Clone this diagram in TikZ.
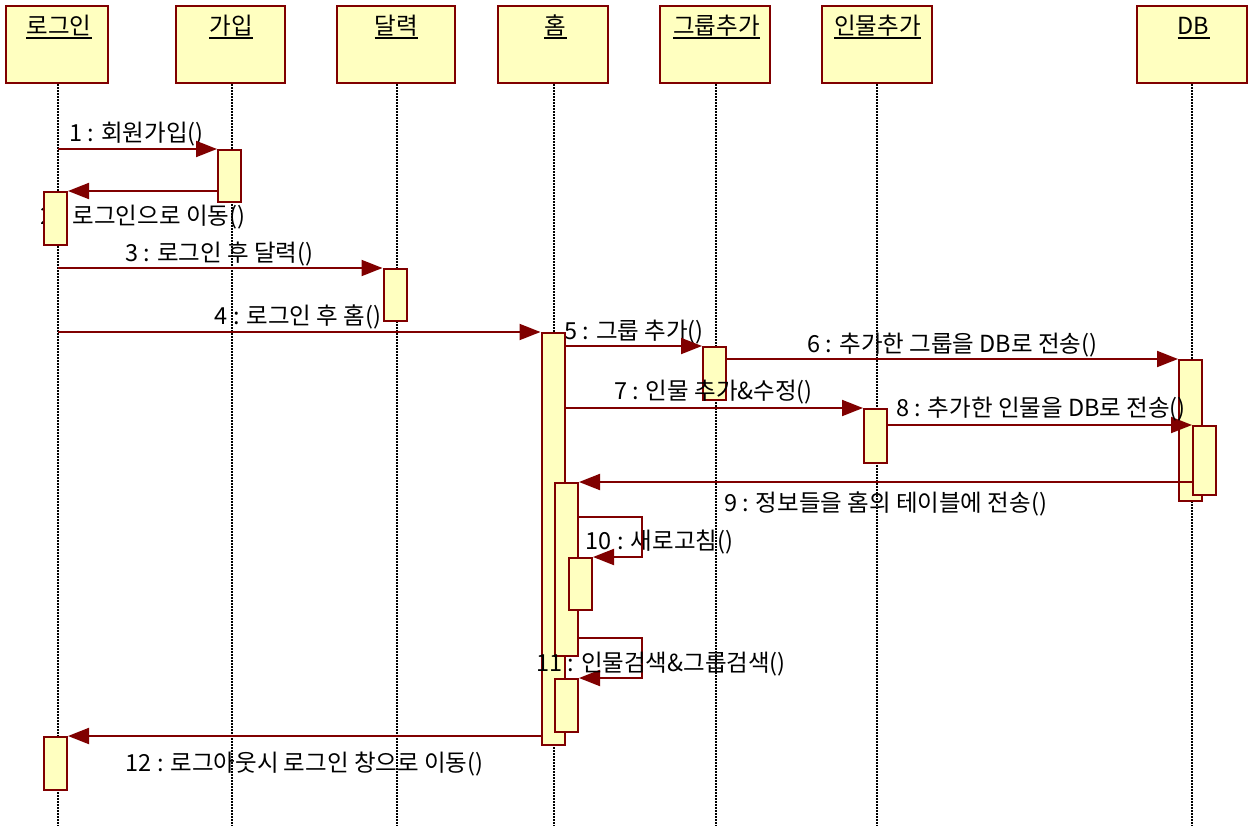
\documentclass[tikz,border=0pt]{standalone}
\usepackage{fontspec}
\setmainfont{Noto Sans CJK KR}
\usetikzlibrary{arrows.meta}
\definecolor{dred}{RGB}{128,0,0}
\definecolor{lyel}{RGB}{255,255,192}
\begin{document}
\begin{tikzpicture}[x=1pt,y=-1pt,
  hbox/.style={draw=dred, line width=2.4pt, fill=lyel, inner sep=0pt, minimum height=76.6pt},
  act/.style={draw=dred, line width=2pt, fill=lyel, inner sep=0pt, minimum width=23pt},
  msg/.style={draw=dred, line width=2pt, -{Triangle[length=21pt,width=16pt]}},
  lbl/.style={font=\fontsize{23.5}{28}\selectfont, inner sep=0pt, anchor=base},
  life/.style={line width=1.6pt, dash pattern=on 1.5pt off 1.5pt}]
\useasboundingbox (0,0) rectangle (1249,827);
% header boxes
\node[hbox, minimum width=101.6pt] (H1) at (57,44.5) {};
\node[hbox, minimum width=108.6pt] (H2) at (230.5,44.5) {};
\node[hbox, minimum width=117.6pt] (H3) at (396,44.5) {};
\node[hbox, minimum width=109.6pt] (H4) at (553,44.5) {};
\node[hbox, minimum width=109.6pt] (H5) at (715,44.5) {};
\node[hbox, minimum width=109.6pt] (H6) at (877,44.5) {};
\node[hbox, minimum width=109.6pt] (H7) at (1192,44.5) {};
% header titles
\node[lbl] (T1) at (59,34) {로그인};
\node[lbl] (T2) at (231,34) {가입};
\node[lbl] (T3) at (396.5,34) {달력};
\node[lbl] (T4) at (555.5,34) {홈};
\node[lbl] (T5) at (716.5,34) {그룹추가};
\node[lbl] (T6) at (877.5,34) {인물추가};
\node[lbl] (T7) at (1193.5,34) {DB};
\foreach \t in {T1,T2,T3,T4,T5,T6,T7}
  \draw[line width=1.5pt] ([yshift=-3.8pt]\t.base west) -- ([yshift=-3.8pt]\t.base east);
% lifeline tops and ends
\coordinate (L1) at (58,84);   \coordinate (E1) at (58,826);
\coordinate (L2) at (232,84);  \coordinate (E2) at (232,826);
\coordinate (L3) at (397,84);  \coordinate (E3) at (397,826);
\coordinate (L4) at (554,84);  \coordinate (E4) at (554,826);
\coordinate (L5) at (716,84);  \coordinate (E5) at (716,826);
\coordinate (L6) at (877,84);  \coordinate (E6) at (877,826);
\coordinate (L7) at (1192,84); \coordinate (E7) at (1192,826);
% message labels (under lifelines)
\node[lbl] (n1) at (136.5,141) {1 : 회원가입()};
\node[lbl] (n2) at (143,224) {2 : 로그인으로 이동()};
\node[lbl] (n3) at (219.5,261) {3 : 로그인 후 달력()};
\node[lbl] (n5) at (634,339) {5 : 그룹 추가()};
\node[lbl] (n6) at (952.5,352) {6 : 추가한 그룹을 DB로 전송()};
\node[lbl] (n9) at (885.5,511) {9 : 정보들을 홈의 테이블에 전송()};
\node[lbl] (n10) at (659.5,549) {10 : 새로고침()};
\node[lbl] (n12) at (304.5,771) {12 : 로그아웃시 로그인 창으로 이동()};
% lifelines
\foreach \i in {1,...,7} \draw[life] (L\i) -- (E\i);
% activations
\node[act, minimum height=52pt] (a1) at (229.5,176) {};
\node[act, minimum height=53pt] (a2) at (55.5,218.5) {};
\node[act, minimum height=52pt] (a3) at (395,295) {};
\node[act, minimum height=412pt] (a4) at (553,539) {};
\node[act, minimum height=53pt] (a5) at (714.5,373.5) {};
\node[act, minimum height=54pt] (a6) at (875.5,436) {};
\node[act, minimum height=141pt] (a7) at (1190.5,430.5) {};
\node[act, minimum height=69pt] (a8) at (1204.5,460.5) {};
\node[act, minimum height=173pt] (a9) at (566.5,569.5) {};
\node[act, minimum height=52pt] (a10) at (580.5,584) {};
\node[act, minimum height=53pt] (a11) at (566.5,705.5) {};
\node[act, minimum height=53pt] (a12) at (55.5,763.5) {};
% messages
\draw[msg] (L1 |- a1.north west) -- (a1.north west);
\draw[msg] (a1.west |- a2.north east) -- (a2.north east);
\draw[msg] (L1 |- a3.north west) -- (a3.north west);
\draw[msg] (L1 |- a4.north west) -- (a4.north west);
\draw[msg] (a4.east |- a5.north west) -- (a5.north west);
\draw[msg] (a5.east |- a7.north west) -- (a7.north west);
\draw[msg] (a4.east |- a6.north west) -- (a6.north west);
\draw[msg] (a6.east |- a8.north west) -- (a8.north west);
\draw[msg] (a8.west |- a9.north east) -- (a9.north east);
\draw[msg] (a9.east |- 0,517) -- (642,517) -- (642,557) -- (a10.north east);
\draw[msg] (a9.east |- 0,638) -- (642,638) -- (642,678) -- (a11.north east);
\draw[msg] (a4.west |- a12.north east) -- (a12.north east);
% labels on top
\node[lbl] (n4) at (298,324) {4 : 로그인 후 홈()};
\node[lbl] (n7) at (713.5,399) {7 : 인물 추가\&수정()};
\node[lbl] (n8) at (1041,416) {8 : 추가한 인물을 DB로 전송()};
\node[lbl] (n11) at (661,671) {11 : 인물검색\&그룹검색()};
\end{tikzpicture}
\end{document}
